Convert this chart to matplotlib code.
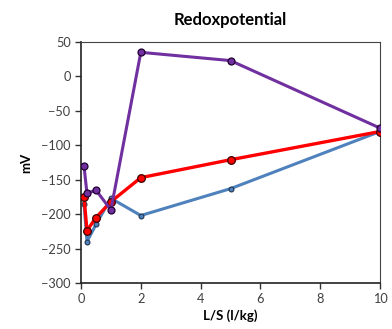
import matplotlib
matplotlib.use("Agg")
import matplotlib.pyplot as plt

plt.rcParams['font.family'] = ['Lato', 'DejaVu Sans']

ls_ratio = [0.1, 0.2, 0.5, 1, 2, 5, 10]
purple_mv = [-130, -170, -165, -194, 35, 23, -75]
red_mv = [-175, -224, -205, -182, -147, -121, -80]
blue_mv = [-185, -240, -215, -177, -202, -163, -80]

fig = plt.figure(figsize=(3.92, 3.29), dpi=100)
ax = fig.add_axes([81/392, 1 - 283/329, (380-81)/392, (283-42)/329])

ax.plot(ls_ratio, blue_mv, color='#4F81BD', lw=2.2, marker='o', ms=3.5,
        mfc='#4F81BD', mec='#1F3550', mew=0.8, zorder=2)
ax.plot(ls_ratio, red_mv, color='#FF0000', lw=2.4, marker='o', ms=5.5,
        mfc='#FF0000', mec='#3A0000', mew=0.9, zorder=3)
ax.plot(ls_ratio, purple_mv, color='#7030A0', lw=2.2, marker='o', ms=5,
        mfc='#7030A0', mec='#200030', mew=0.9, zorder=4)

ax.set_xlim(0, 10)
ax.set_ylim(-300, 50)
ax.set_xticks(range(0, 11, 2))
ax.set_yticks(range(-300, 51, 50))
ax.tick_params(direction='out', length=4, width=1, labelsize=9.2, colors='#333333')
ax.tick_params(axis='both', labelcolor='#404040')

for side in ['left', 'bottom']:
    ax.spines[side].set_linewidth(1.2)
    ax.spines[side].set_color('#222222')
for side in ['top', 'right']:
    ax.spines[side].set_linewidth(0.8)
    ax.spines[side].set_color('#444444')

ax.set_xlabel('L/S (l/kg)', fontsize=9.5, fontweight='bold', labelpad=3)
ax.set_ylabel('mV', fontsize=9.5, fontweight='bold', labelpad=6)
ax.set_title('Redoxpotential', fontsize=12, fontweight='bold', pad=12)

fig.savefig('out.png', dpi=100)
